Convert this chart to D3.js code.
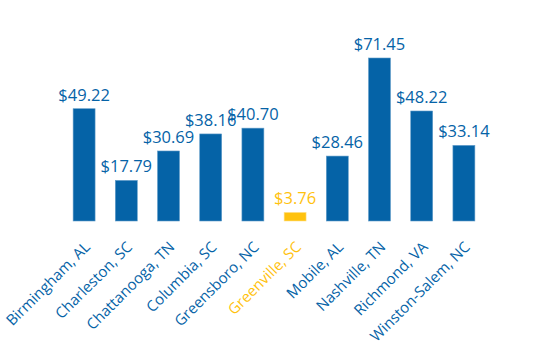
<!DOCTYPE html>
<html><head><meta charset="utf-8">
<script src="https://cdn.jsdelivr.net/npm/d3@7"></script>
<style>body{margin:0;background:#fff}svg{display:block}text{font-family:'Open Sans',sans-serif}</style>
</head><body>
<svg id="c" width="550" height="360"></svg>
<script>
const categories = ["Birmingham, AL","Charleston, SC","Chattanooga, TN","Columbia, SC","Greensboro, NC","Greenville, SC","Mobile, AL","Nashville, TN","Richmond, VA","Winston-Salem, NC"];
const values = [49.22,17.79,30.69,38.16,40.70,3.76,28.46,71.45,48.22,33.14];
const highlight = ["Greenville, SC"];

const blue = "#0563A7", gold = "#FFC20E";
const svg = d3.select("#c");
const x = d3.scaleBand().domain(categories).range([63, 485]).paddingInner(0.48).paddingOuter(0.24);
const y = d3.scaleLinear().domain([0, 71.45]).range([221, 58]);
const col = d => highlight.includes(d) ? gold : blue;

svg.selectAll("rect.bar").data(categories).join("rect").attr("class","bar")
  .attr("x", d => x(d)).attr("width", x.bandwidth())
  .attr("y", (d,i) => y(values[i])).attr("height", (d,i) => y(0) - y(values[i]))
  .attr("fill", d => col(d)).attr("stroke", d => highlight.includes(d) ? "#ffe08a" : "#5f9bc8").attr("stroke-width", 0.6);

svg.selectAll("text.val").data(categories).join("text").attr("class","val")
  .attr("x", d => x(d) + x.bandwidth()/2).attr("y", (d,i) => y(values[i]) - 8)
  .attr("text-anchor","middle").attr("font-size", 16.5).attr("fill", d => col(d))
  .text((d,i) => "$" + d3.format(".2f")(values[i]));

const axis = d3.axisBottom(x).tickSize(0).tickPadding(0);
const g = svg.append("g").attr("transform", `translate(0,${y(0)})`).call(axis);
g.select(".domain").remove();
g.selectAll(".tick text")
  .attr("font-size", 15).attr("font-family","'Open Sans',sans-serif")
  .attr("fill", d => col(d))
  .attr("text-anchor","end").attr("dy", 0).attr("y", 0)
  .attr("transform", "translate(7,27) rotate(-45)");
</script>
</body></html>
